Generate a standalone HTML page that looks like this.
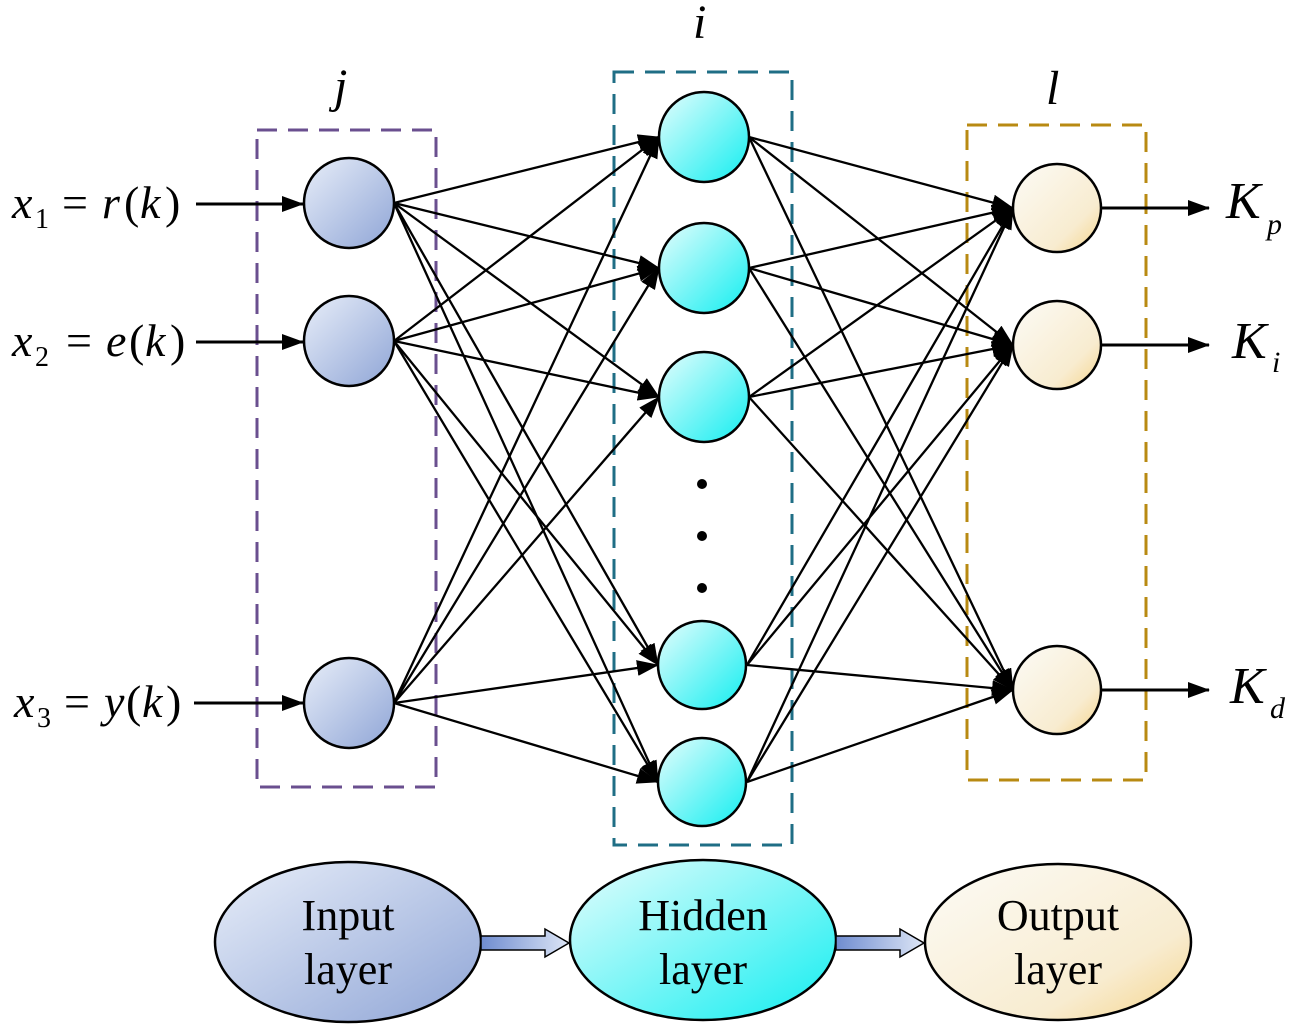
<!DOCTYPE html>
<html><head><meta charset="utf-8"><style>
html,body{margin:0;padding:0;background:#fff;}
svg{display:block;}
.t{font-family:"Liberation Serif",serif;font-style:italic;fill:#000;}
.u{font-family:"Liberation Serif",serif;fill:#000;}
</style></head><body>
<svg width="1299" height="1035" viewBox="0 0 1299 1035" xmlns="http://www.w3.org/2000/svg">
<defs>
<marker id="a" markerWidth="22" markerHeight="16" refX="21" refY="8" orient="auto" markerUnits="userSpaceOnUse">
<path d="M0,0 L22,8 L0,16 z" fill="#000"/></marker>
<linearGradient id="gi" x1="0" y1="0" x2="1" y2="1"><stop offset="0" stop-color="#e8eef9"/><stop offset="1" stop-color="#8fa5d6"/></linearGradient>
<linearGradient id="gh" x1="0" y1="0" x2="1" y2="1"><stop offset="0" stop-color="#e6fdfd"/><stop offset="1" stop-color="#12eef0"/></linearGradient>
<linearGradient id="go" x1="0" y1="0" x2="1" y2="1"><stop offset="0" stop-color="#fcfbf6"/><stop offset="0.7" stop-color="#f8ecd0"/><stop offset="1" stop-color="#f5d48a"/></linearGradient>
<linearGradient id="ga" x1="0" y1="0" x2="1" y2="0"><stop offset="0" stop-color="#6f8cd0"/><stop offset="1" stop-color="#dde6f6"/></linearGradient>
</defs>

<rect x="257" y="130" width="179" height="657" fill="none" stroke="#6a4f8f" stroke-width="3" stroke-dasharray="20,11"/>
<rect x="614" y="72" width="178" height="773" fill="none" stroke="#1f6e85" stroke-width="3" stroke-dasharray="20,11"/>
<rect x="967" y="125" width="179" height="655" fill="none" stroke="#b88a12" stroke-width="3" stroke-dasharray="20,11"/>

<text class="t" x="334" y="102" font-size="48">j</text>
<text class="t" x="693" y="38" font-size="48">i</text>
<text class="t" x="1046" y="104" font-size="48">l</text>

<g stroke="#000" stroke-width="2.3" marker-end="url(#a)">
<line x1="196" y1="204" x2="303" y2="204" stroke-width="3"/>
<line x1="196" y1="342" x2="303" y2="342" stroke-width="3"/>
<line x1="194" y1="703" x2="303" y2="703" stroke-width="3"/>
<line x1="394" y1="203" x2="659" y2="137"/>
<line x1="394" y1="203" x2="659" y2="268"/>
<line x1="394" y1="203" x2="659" y2="397"/>
<line x1="394" y1="203" x2="658" y2="665"/>
<line x1="394" y1="203" x2="658" y2="782"/>
<line x1="394" y1="341" x2="659" y2="137"/>
<line x1="394" y1="341" x2="659" y2="268"/>
<line x1="394" y1="341" x2="659" y2="397"/>
<line x1="394" y1="341" x2="658" y2="665"/>
<line x1="394" y1="341" x2="658" y2="782"/>
<line x1="394" y1="703" x2="659" y2="137"/>
<line x1="394" y1="703" x2="659" y2="268"/>
<line x1="394" y1="703" x2="659" y2="397"/>
<line x1="394" y1="703" x2="658" y2="665"/>
<line x1="394" y1="703" x2="658" y2="782"/>
<line x1="749" y1="137" x2="1013" y2="208"/>
<line x1="749" y1="137" x2="1013" y2="345"/>
<line x1="749" y1="137" x2="1013" y2="690"/>
<line x1="749" y1="268" x2="1013" y2="208"/>
<line x1="749" y1="268" x2="1013" y2="345"/>
<line x1="749" y1="268" x2="1013" y2="690"/>
<line x1="749" y1="397" x2="1013" y2="208"/>
<line x1="749" y1="397" x2="1013" y2="345"/>
<line x1="749" y1="397" x2="1013" y2="690"/>
<line x1="747" y1="665" x2="1013" y2="208"/>
<line x1="747" y1="665" x2="1013" y2="345"/>
<line x1="747" y1="665" x2="1013" y2="690"/>
<line x1="747" y1="782" x2="1013" y2="208"/>
<line x1="747" y1="782" x2="1013" y2="345"/>
<line x1="747" y1="782" x2="1013" y2="690"/>
<line x1="1101" y1="208" x2="1209" y2="208" stroke-width="3"/>
<line x1="1101" y1="345" x2="1209" y2="345" stroke-width="3"/>
<line x1="1101" y1="690" x2="1209" y2="690" stroke-width="3"/>
</g>

<g stroke="#000" stroke-width="2.5">
<circle cx="349" cy="203" r="45" fill="url(#gi)"/>
<circle cx="349" cy="341" r="45" fill="url(#gi)"/>
<circle cx="349" cy="703" r="45" fill="url(#gi)"/>
<circle cx="704" cy="137" r="45" fill="url(#gh)"/>
<circle cx="704" cy="268" r="45" fill="url(#gh)"/>
<circle cx="704" cy="397" r="45" fill="url(#gh)"/>
<circle cx="702" cy="665" r="44" fill="url(#gh)"/>
<circle cx="702" cy="782" r="44" fill="url(#gh)"/>
<circle cx="1057" cy="208" r="44" fill="url(#go)"/>
<circle cx="1057" cy="345" r="44" fill="url(#go)"/>
<circle cx="1057" cy="690" r="44" fill="url(#go)"/>
</g>
<circle cx="702" cy="484" r="5" fill="#000"/>
<circle cx="702" cy="536" r="5" fill="#000"/>
<circle cx="702" cy="588" r="5" fill="#000"/>

<text class="t" x="12" y="218" font-size="46">x</text><text class="u" x="35" y="228" font-size="28">1</text>
<text class="u" x="62" y="218" font-size="46">=</text><text class="t" x="102" y="218" font-size="46">r</text><text class="u" x="124" y="218" font-size="46">(</text><text class="t" x="140" y="218" font-size="46">k</text><text class="u" x="165" y="218" font-size="46">)</text>
<text class="t" x="12" y="356" font-size="46">x</text><text class="u" x="35" y="366" font-size="28">2</text>
<text class="u" x="66" y="356" font-size="46">=</text><text class="t" x="106" y="356" font-size="46">e</text><text class="u" x="129" y="356" font-size="46">(</text><text class="t" x="145" y="356" font-size="46">k</text><text class="u" x="170" y="356" font-size="46">)</text>
<text class="t" x="14" y="717" font-size="46">x</text><text class="u" x="37" y="727" font-size="28">3</text>
<text class="u" x="64" y="717" font-size="46">=</text><text class="t" x="104" y="717" font-size="46">y</text><text class="u" x="126" y="717" font-size="46">(</text><text class="t" x="142" y="717" font-size="46">k</text><text class="u" x="166" y="717" font-size="46">)</text>

<text class="t" x="1226" y="218" font-size="52">K</text><text class="t" x="1267" y="234" font-size="30">p</text>
<text class="t" x="1232" y="358" font-size="52">K</text><text class="t" x="1272" y="372" font-size="30">i</text>
<text class="t" x="1230" y="703" font-size="52">K</text><text class="t" x="1270" y="718" font-size="30">d</text>

<ellipse cx="348" cy="942" rx="133" ry="80" fill="url(#gi)" stroke="#000" stroke-width="2.5"/>
<ellipse cx="703" cy="940" rx="133" ry="80" fill="url(#gh)" stroke="#000" stroke-width="2.5"/>
<ellipse cx="1058" cy="942" rx="133" ry="78" fill="url(#go)" stroke="#000" stroke-width="2.5"/>
<path d="M481,936 L545,936 L545,929 L569,943 L545,957 L545,950 L481,950 z" fill="url(#ga)" stroke="#000" stroke-width="1.5"/>
<path d="M836,936 L900,936 L900,929 L924,943 L900,957 L900,950 L836,950 z" fill="url(#ga)" stroke="#000" stroke-width="1.5"/>
<text class="u" x="348" y="930" font-size="44" text-anchor="middle">Input</text>
<text class="u" x="348" y="984" font-size="44" text-anchor="middle">layer</text>
<text class="u" x="703" y="930" font-size="44" text-anchor="middle">Hidden</text>
<text class="u" x="703" y="984" font-size="44" text-anchor="middle">layer</text>
<text class="u" x="1058" y="930" font-size="44" text-anchor="middle">Output</text>
<text class="u" x="1058" y="984" font-size="44" text-anchor="middle">layer</text>
</svg>
</body></html>
